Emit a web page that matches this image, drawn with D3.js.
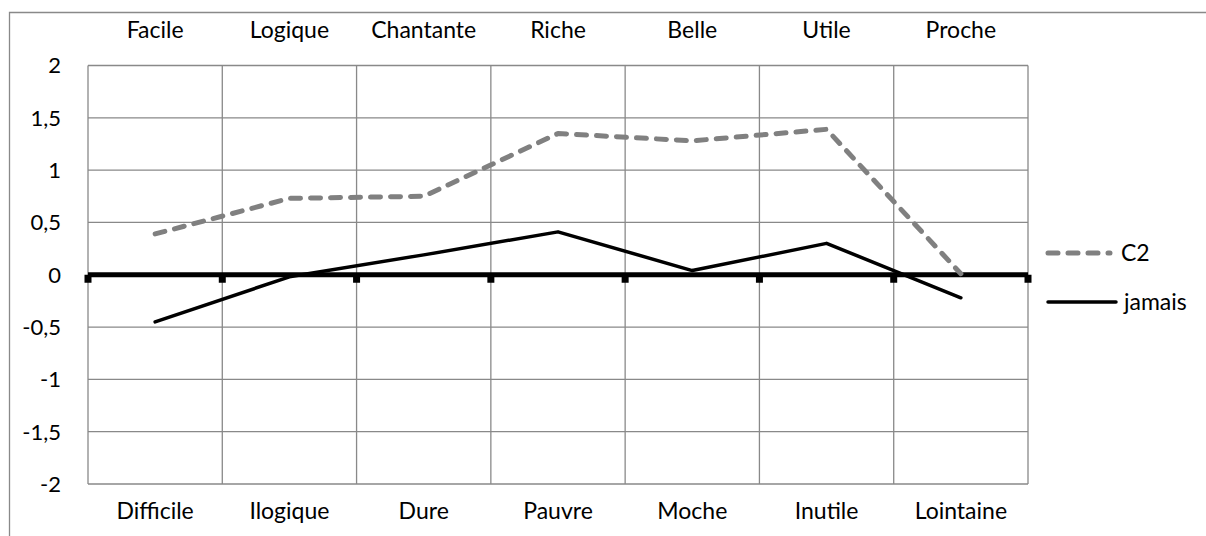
<!DOCTYPE html>
<html>
<head>
<meta charset="utf-8">
<script src="https://cdn.jsdelivr.net/npm/d3@7"></script>
<style>
  html, body { margin: 0; padding: 0; background: #fff; }
  svg { display: block; font-family: Lato, "Open Sans", sans-serif; }
</style>
</head>
<body>
<svg id="chart"></svg>
<script>
// ── donnees ──
const topLabels = ["Facile", "Logique", "Chantante", "Riche", "Belle", "Utile", "Proche"];
const bottomLabels = ["Difficile", "Ilogique", "Dure", "Pauvre", "Moche", "Inutile", "Lointaine"];
const c2Values = [0.39, 0.73, 0.75, 1.35, 1.28, 1.39, 0.01];
const jamaisValues = [-0.45, -0.02, 0.19, 0.41, 0.04, 0.30, -0.22];
const yTicks = [2, 1.5, 1, 0.5, 0, -0.5, -1, -1.5, -2];

const width = 1206, height = 536;
const plotLeft = 88, plotRight = 1028, plotTop = 65.5, plotBottom = 484;
const grid = "#898989";

const svg = d3.select("#chart").attr("width", width).attr("height", height);

// cadre exterieur
svg.append("path")
  .attr("fill", "none").attr("stroke", grid).attr("stroke-width", 1.3)
  .attr("d", `M9.5,${height + 2}V12.5H${width + 2}`);

const x = d3.scaleBand().domain(d3.range(topLabels.length)).range([plotLeft, plotRight]);
const y = d3.scaleLinear().domain([-2, 2]).range([plotBottom, plotTop]);
const cx = i => x(i) + x.bandwidth() / 2;

// grille
svg.append("g")
  .attr("stroke", grid).attr("stroke-width", 1.3)
  .selectAll("line").data(yTicks).join("line")
  .attr("x1", plotLeft).attr("x2", plotRight)
  .attr("y1", d => y(d)).attr("y2", d => y(d));

const bounds = d3.range(topLabels.length + 1).map(i => i < topLabels.length ? x(i) : plotRight);
svg.append("g")
  .attr("stroke", grid).attr("stroke-width", 1.3)
  .selectAll("line").data(bounds).join("line")
  .attr("x1", d => d).attr("x2", d => d)
  .attr("y1", plotTop).attr("y2", plotBottom);

// axe zero + graduations
svg.append("line")
  .attr("x1", plotLeft).attr("x2", plotRight)
  .attr("y1", y(0)).attr("y2", y(0))
  .attr("stroke", "#000").attr("stroke-width", 5);

svg.append("g")
  .selectAll("rect").data(bounds).join("rect")
  .attr("x", d => d - 3.5).attr("y", y(0)).attr("width", 7).attr("height", 8)
  .attr("fill", "#000");

// etiquettes y
svg.append("g")
  .attr("font-size", 22).attr("fill", "#000").attr("text-anchor", "end")
  .selectAll("text").data(yTicks).join("text")
  .attr("x", 61).attr("y", d => y(d)).attr("dy", "0.36em")
  .text(d => String(d).replace(".", ","));

// etiquettes categories
svg.append("g")
  .attr("font-size", 23).attr("fill", "#000").attr("text-anchor", "middle")
  .selectAll("text").data(topLabels).join("text")
  .attr("x", (d, i) => cx(i)).attr("y", 38)
  .text(d => d);

svg.append("g")
  .attr("font-size", 23).attr("fill", "#000").attr("text-anchor", "middle")
  .selectAll("text").data(bottomLabels).join("text")
  .attr("x", (d, i) => cx(i)).attr("y", 519)
  .text(d => d);

// series
const line = d3.line().x((d, i) => cx(i)).y(d => y(d));

svg.append("path")
  .datum(c2Values)
  .attr("fill", "none").attr("stroke", "#808080").attr("stroke-width", 5)
  .attr("stroke-dasharray", "10 10").attr("stroke-linecap", "round").attr("stroke-linejoin", "round")
  .attr("d", line);

svg.append("path")
  .datum(jamaisValues)
  .attr("fill", "none").attr("stroke", "#000").attr("stroke-width", 3.5)
  .attr("stroke-linejoin", "round").attr("stroke-linecap", "round")
  .attr("d", line);

// legende
const legend = svg.append("g").attr("font-size", 23).attr("fill", "#000");
legend.append("line")
  .attr("x1", 1048).attr("x2", 1110).attr("y1", 253).attr("y2", 253)
  .attr("stroke", "#808080").attr("stroke-width", 5)
  .attr("stroke-dasharray", "10 10").attr("stroke-linecap", "round");
legend.append("text").attr("x", 1121).attr("y", 253).attr("dy", "0.36em").text("C2");
legend.append("line")
  .attr("x1", 1048).attr("x2", 1116).attr("y1", 302).attr("y2", 302)
  .attr("stroke", "#000").attr("stroke-width", 3.5).attr("stroke-linecap", "round");
legend.append("text").attr("x", 1124).attr("y", 302).attr("dy", "0.36em").text("jamais");
</script>
</body>
</html>
